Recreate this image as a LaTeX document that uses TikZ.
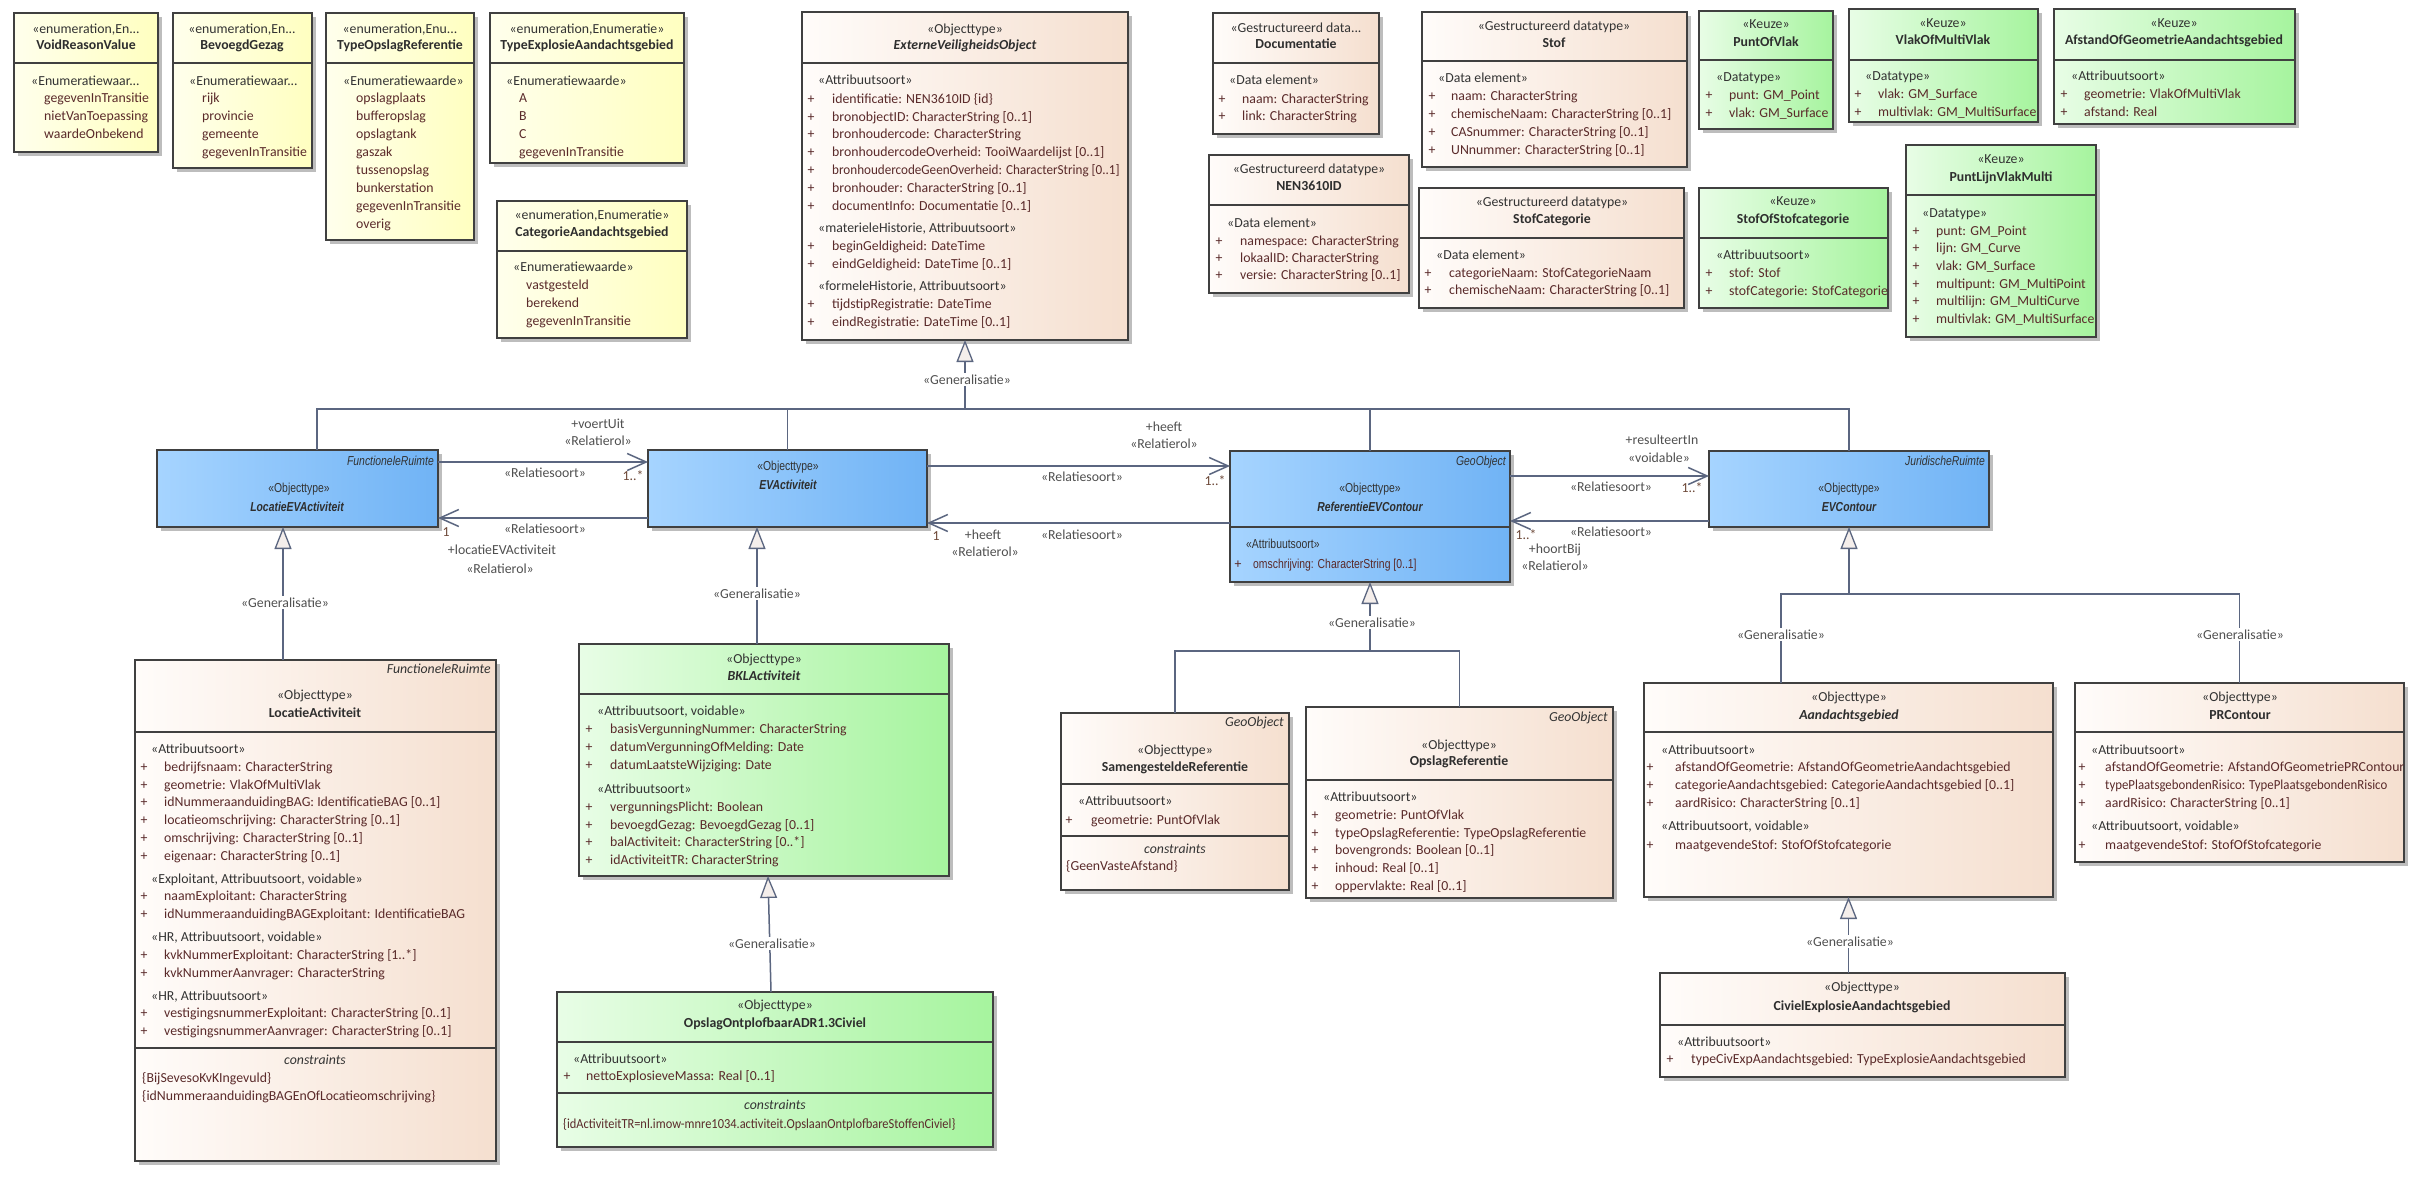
\documentclass[tikz,border=0pt]{standalone}
\usepackage{fontspec}
\setmainfont{Carlito}
\newfontfamily\nrw[FakeStretch=0.8]{Liberation Sans}
\usetikzlibrary{arrows.meta,shadows,calc}
\definecolor{yL}{HTML}{FFFFEC}
\definecolor{yR}{HTML}{FFFFC0}
\definecolor{pL}{HTML}{FFFCFA}
\definecolor{pR}{HTML}{F5DFCF}
\definecolor{gL}{HTML}{E8FDE6}
\definecolor{gR}{HTML}{A6F49E}
\definecolor{bL}{HTML}{A6D4FF}
\definecolor{bR}{HTML}{70B3F5}
\definecolor{bord}{HTML}{404040}
\definecolor{lnc}{HTML}{5B6680}
\definecolor{atc}{HTML}{5A2A2A}
\definecolor{stc}{HTML}{333333}
\definecolor{nmc}{HTML}{2E2E2E}
\definecolor{lbc}{HTML}{505050}
\definecolor{mlc}{HTML}{6E4A3A}
\definecolor{genf}{HTML}{F4EEEB}
\definecolor{shd}{HTML}{BDBDBD}
\newcommand\fs{\fontsize{13.8pt}{18pt}\selectfont}
\newcommand\nfs{\nrw\fontsize{13pt}{16pt}\selectfont}
\newcounter{nn}
\newcommand\tx[4]{\stepcounter{nn}\node[#1] (t\arabic{nn}) at (#2,#3) {#4};}
\newcommand\ubox[6]{%
  \pgfmathsetmacro\bw{#4-#2}\pgfmathsetmacro\bh{#5-#3}%
  \node[#6, anchor=north west, minimum width=\bw pt, minimum height=\bh pt, inner sep=0pt, outer sep=0pt] (#1) at (#2,#3) {};}
\newcommand\usep[2]{\draw[uSep] (#1.west |- 0,#2) -- (#1.east |- 0,#2);}
\newcommand\alist[5]{%
  \foreach \t [count=\i from 0] in {#5} {%
    \pgfmathsetmacro\yy{#3+#4*\i}%
    \tx{uPl}{#1}{\yy}{+}\tx{uAt}{#2}{\yy}{\t}}}
\newcommand\vlist[4]{%
  \foreach \t [count=\i from 0] in {#4} {%
    \pgfmathsetmacro\yy{#2+#3*\i}%
    \tx{uAt}{#1}{\yy}{\t}}}
\tikzset{
  uBox/.style={draw=bord, line width=1.3pt, drop shadow={shadow xshift=4pt,shadow yshift=-4pt,fill=shd,opacity=1}},
  uY/.style={uBox, left color=yL, right color=yR},
  uP/.style={uBox, left color=pL, right color=pR},
  uG/.style={uBox, left color=gL, right color=gR},
  uB/.style={uBox, left color=bL, right color=bR},
  uSep/.style={draw=bord, line width=1.3pt},
  uSt/.style={font=\fs, text=stc, inner sep=0pt, anchor=mid},
  uSn/.style={font=\nfs, text=stc, inner sep=0pt, anchor=mid},
  uNm/.style={font=\fs\bfseries, text=nmc, inner sep=0pt, anchor=mid},
  uNi/.style={font=\fs\bfseries\itshape, text=nmc, inner sep=0pt, anchor=mid},
  uNin/.style={font=\nfs\bfseries\itshape, text=nmc, inner sep=0pt, anchor=mid},
  uGr/.style={font=\fs, text=stc, inner sep=0pt, anchor=mid west},
  uGrn/.style={font=\nfs, text=stc, inner sep=0pt, anchor=mid west},
  uPl/.style={font=\fs, text=atc, inner sep=0pt, anchor=mid},
  uAt/.style={font=\fs, text=atc, inner sep=0pt, anchor=mid west},
  uAtn/.style={font=\nfs, text=atc, inner sep=0pt, anchor=mid west},
  uTg/.style={font=\fs\itshape, text=stc, inner sep=0pt, anchor=mid east},
  uTgn/.style={font=\nfs\itshape, text=stc, inner sep=0pt, anchor=mid east},
  uCs/.style={font=\fs\itshape, text=stc, inner sep=0pt, anchor=mid},
  uLb/.style={font=\fs, text=lbc, inner sep=0pt, anchor=mid},
  uMl/.style={font=\fs, text=mlc, inner sep=0pt, anchor=mid},
  uGl/.style={font=\fs, text=lbc, fill=white, inner sep=1.5pt, anchor=mid},
  uCn/.style={draw=lnc, line width=1.5pt},
  uGe/.style={uCn, -{Triangle[length=22pt,width=17pt,fill=genf,line width=1.3pt]}},
  uAs/.style={uCn, -{Straight Barb[length=19pt,width=17pt,line width=1.5pt]}}
}
\begin{document}
\begin{tikzpicture}[x=1pt,y=-1pt]
\useasboundingbox (0,0) rectangle (2420,1178);
\fill[white] (0,0) rectangle (2420,1178);

% ---------- enumerations
\ubox{vrv}{14}{13}{158}{152}{uY}
\usep{vrv}{63}
\tx{uSt}{86}{31}{«enumeration,En...}
\tx{uNm}{86}{47}{VoidReasonValue}
\tx{uGr}{31}{83}{«Enumeratiewaar...}
\vlist{44}{100}{18}{gegevenInTransitie,nietVanToepassing,waardeOnbekend}

\ubox{bg}{173}{13}{312}{168}{uY}
\usep{bg}{63}
\tx{uSt}{242}{31}{«enumeration,En...}
\tx{uNm}{242}{47}{BevoegdGezag}
\tx{uGr}{189}{83}{«Enumeratiewaar...}
\vlist{202}{100}{18}{rijk,provincie,gemeente,gegevenInTransitie}

\ubox{tor}{326}{13}{474}{240}{uY}
\usep{tor}{63}
\tx{uSt}{400}{31}{«enumeration,Enu...}
\tx{uNm}{400}{47}{TypeOpslagReferentie}
\tx{uGr}{343}{83}{«Enumeratiewaarde»}
\vlist{356}{100}{18}{opslagplaats,bufferopslag,opslagtank,gaszak,tussenopslag,bunkerstation,gegevenInTransitie,overig}

\ubox{tea}{490}{13}{684}{163}{uY}
\usep{tea}{63}
\tx{uSt}{587}{31}{«enumeration,Enumeratie»}
\tx{uNm}{587}{47}{TypeExplosieAandachtsgebied}
\tx{uGr}{506}{83}{«Enumeratiewaarde»}
\vlist{519}{100}{18}{A,B,C,gegevenInTransitie}

\ubox{cag}{497}{201}{687}{338}{uY}
\usep{cag}{251}
\tx{uSt}{592}{217}{«enumeration,Enumeratie»}
\tx{uNm}{592}{234}{CategorieAandachtsgebied}
\tx{uGr}{513}{269}{«Enumeratiewaarde»}
\vlist{526}{287}{18}{vastgesteld,berekend,gegevenInTransitie}

% ---------- ExterneVeiligheidsObject
\ubox{evo}{802}{12}{1128}{340}{uP}
\usep{evo}{63}
\tx{uSt}{965}{31}{«Objecttype»}
\tx{uNi}{965}{47}{ExterneVeiligheidsObject}
\tx{uGr}{818}{82}{«Attribuutsoort»}
\alist{811}{832}{101}{17.8}{identificatie: NEN3610ID \{id\},bronobjectID: CharacterString [0..1],bronhoudercode: CharacterString,bronhoudercodeOverheid: TooiWaardelijst [0..1],{\scalebox{0.95}[1]{bronhoudercodeGeenOverheid: CharacterString [0..1]}},bronhouder: CharacterString [0..1],documentInfo: Documentatie [0..1]}
\tx{uGr}{818}{230}{«materieleHistorie, Attribuutsoort»}
\alist{811}{832}{248}{17.8}{beginGeldigheid: DateTime,eindGeldigheid: DateTime [0..1]}
\tx{uGr}{818}{288}{«formeleHistorie, Attribuutsoort»}
\alist{811}{832}{306}{17.8}{tijdstipRegistratie: DateTime,eindRegistratie: DateTime [0..1]}

% ---------- datatypes
\ubox{doc}{1213}{13}{1379}{134}{uP}
\usep{doc}{63}
\tx{uSt}{1296}{30}{«Gestructureerd data...}
\tx{uNm}{1296}{46}{Documentatie}
\tx{uGr}{1229}{82}{«Data element»}
\alist{1222}{1242}{101}{17}{naam: CharacterString,link: CharacterString}

\ubox{stof}{1422}{12}{1687}{167}{uP}
\usep{stof}{61}
\tx{uSt}{1554}{28}{«Gestructureerd datatype»}
\tx{uNm}{1554}{45}{Stof}
\tx{uGr}{1438}{80}{«Data element»}
\alist{1432}{1451}{98}{18}{naam: CharacterString,chemischeNaam: CharacterString [0..1],CASnummer: CharacterString [0..1],UNnummer: CharacterString [0..1]}

\ubox{nen}{1209}{155}{1409}{293}{uP}
\usep{nen}{205}
\tx{uSt}{1309}{171}{«Gestructureerd datatype»}
\tx{uNm}{1309}{188}{NEN3610ID}
\tx{uGr}{1227}{225}{«Data element»}
\alist{1219}{1240}{243}{17}{namespace: CharacterString,lokaalID: CharacterString,versie: CharacterString [0..1]}

\ubox{stcat}{1419}{188}{1684}{308}{uP}
\usep{stcat}{238}
\tx{uSt}{1552}{204}{«Gestructureerd datatype»}
\tx{uNm}{1552}{221}{StofCategorie}
\tx{uGr}{1436}{257}{«Data element»}
\alist{1428}{1449}{275}{17.5}{categorieNaam: StofCategorieNaam,chemischeNaam: CharacterString [0..1]}

% ---------- Keuze
\ubox{pov}{1699}{11}{1833}{129}{uG}
\usep{pov}{60}
\tx{uSt}{1766}{26}{«Keuze»}
\tx{uNm}{1766}{44}{PuntOfVlak}
\tx{uGr}{1716}{79}{«Datatype»}
\alist{1709}{1729}{97}{18}{punt: GM\_Point,vlak: GM\_Surface}

\ubox{vomv}{1849}{9}{2038}{122}{uG}
\usep{vomv}{60}
\tx{uSt}{1943}{25}{«Keuze»}
\tx{uNm}{1943}{42}{VlakOfMultiVlak}
\tx{uGr}{1865}{78}{«Datatype»}
\alist{1858}{1878}{96}{18}{vlak: GM\_Surface,multivlak: GM\_MultiSurface}

\ubox{aoga}{2054}{9}{2295}{124}{uG}
\usep{aoga}{60}
\tx{uSt}{2174}{25}{«Keuze»}
\tx{uNm}{2174}{42}{AfstandOfGeometrieAandachtsgebied}
\tx{uGr}{2071}{78}{«Attribuutsoort»}
\alist{2064}{2084}{96}{18}{geometrie: VlakOfMultiVlak,afstand: Real}

\ubox{sos}{1699}{188}{1888}{308}{uG}
\usep{sos}{238}
\tx{uSt}{1793}{203}{«Keuze»}
\tx{uNm}{1793}{221}{StofOfStofcategorie}
\tx{uGr}{1716}{257}{«Attribuutsoort»}
\alist{1709}{1729}{275}{18}{stof: Stof,stofCategorie: StofCategorie}

\ubox{plvm}{1906}{145}{2096}{337}{uG}
\usep{plvm}{195}
\tx{uSt}{2001}{161}{«Keuze»}
\tx{uNm}{2001}{179}{PuntLijnVlakMulti}
\tx{uGr}{1922}{215}{«Datatype»}
\alist{1916}{1936}{233}{17.6}{punt: GM\_Point,lijn: GM\_Curve,vlak: GM\_Surface,multipunt: GM\_MultiPoint,multilijn: GM\_MultiCurve,multivlak: GM\_MultiSurface}

% ---------- blue row
\ubox{locev}{157}{450}{438}{527}{uB}
\tx{uTgn}{434}{463}{FunctioneleRuimte}
\tx{uSn}{299}{490}{«Objecttype»}
\tx{uNin}{297}{509}{LocatieEVActiviteit}

\ubox{evact}{648}{450}{927}{527}{uB}
\tx{uSn}{788}{468}{«Objecttype»}
\tx{uNin}{788}{487}{EVActiviteit}

\ubox{refev}{1230}{451}{1510}{582}{uB}
\usep{refev}{527}
\tx{uTgn}{1506}{463}{GeoObject}
\tx{uSn}{1370}{490}{«Objecttype»}
\tx{uNin}{1370}{509}{ReferentieEVContour}
\tx{uGrn}{1246}{546}{«Attribuutsoort»}
\tx{uPl}{1238}{566}{+}
\tx{uAtn}{1253}{566}{omschrijving: CharacterString [0..1]}

\ubox{evc}{1709}{451}{1989}{527}{uB}
\tx{uTgn}{1985}{463}{JuridischeRuimte}
\tx{uSn}{1849}{490}{«Objecttype»}
\tx{uNin}{1849}{509}{EVContour}

% ---------- lower classes
\ubox{locact}{135}{660}{496}{1161}{uP}
\usep{locact}{732}
\usep{locact}{1048}
\tx{uTg}{491}{671}{FunctioneleRuimte}
\tx{uSt}{315}{697}{«Objecttype»}
\tx{uNm}{315}{715}{LocatieActiviteit}
\tx{uGr}{151}{751}{«Attribuutsoort»}
\alist{144}{164}{769}{17.8}{bedrijfsnaam: CharacterString,geometrie: VlakOfMultiVlak,idNummeraanduidingBAG: IdentificatieBAG [0..1],locatieomschrijving: CharacterString [0..1],omschrijving: CharacterString [0..1],eigenaar: CharacterString [0..1]}
\tx{uGr}{151}{881}{«Exploitant, Attribuutsoort, voidable»}
\alist{144}{164}{898}{17.8}{naamExploitant: CharacterString,idNummeraanduidingBAGExploitant: IdentificatieBAG}
\tx{uGr}{151}{939}{«HR, Attribuutsoort, voidable»}
\alist{144}{164}{957}{17.8}{kvkNummerExploitant: CharacterString [1..*],kvkNummerAanvrager: CharacterString}
\tx{uGr}{151}{998}{«HR, Attribuutsoort»}
\alist{144}{164}{1015}{17.8}{vestigingsnummerExploitant: CharacterString [0..1],vestigingsnummerAanvrager: CharacterString [0..1]}
\tx{uCs}{315}{1062}{constraints}
\tx{uAt}{142}{1080}{\{BijSevesoKvKIngevuld\}}
\tx{uAt}{142}{1098}{\{idNummeraanduidingBAGEnOfLocatieomschrijving\}}

\ubox{bkl}{579}{644}{949}{876}{uG}
\usep{bkl}{694}
\tx{uSt}{764}{661}{«Objecttype»}
\tx{uNi}{764}{678}{BKLActiviteit}
\tx{uGr}{597}{713}{«Attribuutsoort, voidable»}
\alist{589}{610}{731}{18}{basisVergunningNummer: CharacterString,datumVergunningOfMelding: Date,datumLaatsteWijziging: Date}
\tx{uGr}{597}{791}{«Attribuutsoort»}
\alist{589}{610}{809}{17.8}{vergunningsPlicht: Boolean,bevoegdGezag: BevoegdGezag [0..1],balActiviteit: CharacterString [0..*],idActiviteitTR: CharacterString}

\ubox{oo}{557}{992}{993}{1147}{uG}
\usep{oo}{1042}
\usep{oo}{1093}
\tx{uSt}{775}{1007}{«Objecttype»}
\tx{uNm}{775}{1025}{OpslagOntplofbaarADR1.3Civiel}
\tx{uGr}{573}{1061}{«Attribuutsoort»}
\alist{567}{586}{1078}{18}{nettoExplosieveMassa: Real [0..1]}
\tx{uCs}{775}{1107}{constraints}
\tx{uAt}{563}{1126}{\scalebox{0.9}[1]{\{idActiviteitTR=nl.imow-mnre1034.activiteit.OpslaanOntplofbareStoffenCiviel\}}}

\ubox{sam}{1061}{713}{1289}{890}{uP}
\usep{sam}{784}
\usep{sam}{836}
\tx{uTg}{1284}{724}{GeoObject}
\tx{uSt}{1175}{752}{«Objecttype»}
\tx{uNm}{1175}{769}{SamengesteldeReferentie}
\tx{uGr}{1078}{803}{«Attribuutsoort»}
\alist{1069}{1091}{822}{18}{geometrie: PuntOfVlak}
\tx{uCs}{1175}{851}{constraints}
\tx{uAt}{1066}{868}{\{GeenVasteAfstand\}}

\ubox{opref}{1306}{707}{1613}{898}{uP}
\usep{opref}{780}
\tx{uTg}{1608}{719}{GeoObject}
\tx{uSt}{1459}{747}{«Objecttype»}
\tx{uNm}{1459}{763}{OpslagReferentie}
\tx{uGr}{1323}{799}{«Attribuutsoort»}
\alist{1315}{1335}{817}{17.8}{geometrie: PuntOfVlak,typeOpslagReferentie: TypeOpslagReferentie,bovengronds: Boolean [0..1],inhoud: Real [0..1],oppervlakte: Real [0..1]}

\ubox{aand}{1644}{683}{2053}{897}{uP}
\usep{aand}{732}
\tx{uSt}{1849}{699}{«Objecttype»}
\tx{uNi}{1849}{717}{Aandachtsgebied}
\tx{uGr}{1661}{752}{«Attribuutsoort»}
\alist{1650}{1675}{769}{18}{afstandOfGeometrie: AfstandOfGeometrieAandachtsgebied,categorieAandachtsgebied: CategorieAandachtsgebied [0..1],aardRisico: CharacterString [0..1]}
\tx{uGr}{1661}{828}{«Attribuutsoort, voidable»}
\alist{1650}{1675}{847}{18}{maatgevendeStof: StofOfStofcategorie}

\ubox{prc}{2075}{683}{2404}{862}{uP}
\usep{prc}{732}
\tx{uSt}{2240}{699}{«Objecttype»}
\tx{uNm}{2240}{717}{PRContour}
\tx{uGr}{2091}{752}{«Attribuutsoort»}
\alist{2082}{2105}{769}{18}{afstandOfGeometrie: AfstandOfGeometriePRContour,{\scalebox{0.93}[1]{typePlaatsgebondenRisico: TypePlaatsgebondenRisico}},aardRisico: CharacterString [0..1]}
\tx{uGr}{2091}{828}{«Attribuutsoort, voidable»}
\alist{2082}{2105}{847}{18}{maatgevendeStof: StofOfStofcategorie}

\ubox{civ}{1660}{973}{2065}{1077}{uP}
\usep{civ}{1025}
\tx{uSt}{1862}{989}{«Objecttype»}
\tx{uNm}{1862}{1008}{CivielExplosieAandachtsgebied}
\tx{uGr}{1677}{1044}{«Attribuutsoort»}
\alist{1670}{1691}{1061}{18}{typeCivExpAandachtsgebied: TypeExplosieAandachtsgebied}

% ---------- generalisations
\coordinate (gj) at (965,409);
\draw[uCn] ([xshift=19.5pt]locev.north) |- (gj);
\draw[uCn] (gj) -| (evc.north);
\draw[uCn] (evact.north) -- (evact.north |- gj);
\draw[uCn] (refev.north) -- (refev.north |- gj);
\draw[uGe] (gj) -- (evo.south);

\draw[uGe] ([xshift=-14.5pt]locev.south |- locact.north) -- ([xshift=-14.5pt]locev.south);
\draw[uGe] ([xshift=-30.5pt]evact.south |- bkl.north) -- ([xshift=-30.5pt]evact.south);
\draw[uGe] ([xshift=-4pt]oo.north) -- ([xshift=4pt]bkl.south);

\coordinate (rj) at (1370,651);
\draw[uCn] (sam.north) |- (rj) -| (opref.north);
\draw[uGe] (rj) -- (refev.south);

\coordinate (ej) at (1849,594);
\draw[uCn] ([xshift=-67.5pt]aand.north) |- (ej) -| (prc.north);
\draw[uGe] (ej) -- (evc.south);
\draw[uGe] (civ.north -| aand.south) -- (aand.south);

\tx{uGl}{967}{382}{«Generalisatie»}
\tx{uGl}{285}{605}{«Generalisatie»}
\tx{uGl}{757}{596}{«Generalisatie»}
\tx{uGl}{772}{946}{«Generalisatie»}
\tx{uGl}{1372}{625}{«Generalisatie»}
\tx{uGl}{1781}{637}{«Generalisatie»}
\tx{uGl}{2240}{637}{«Generalisatie»}
\tx{uGl}{1850}{944}{«Generalisatie»}

% ---------- associations
\draw[uAs] ([yshift=26.5pt]locev.east) -- ([yshift=26.5pt]evact.west);
\draw[uAs] ([yshift=-29.5pt]evact.west) -- ([yshift=-29.5pt]locev.east);
\draw[uAs] ([yshift=22.5pt]evact.east) -- ([yshift=22.5pt]evact.east -| refev.west);
\draw[uAs] ([yshift=-34.5pt]evact.east -| refev.west) -- ([yshift=-34.5pt]evact.east);
\draw[uAs] ([yshift=13pt]evc.west -| refev.east) -- ([yshift=13pt]evc.west);
\draw[uAs] ([yshift=-32pt]evc.west) -- ([yshift=-32pt]evc.west -| refev.east);

\tx{uLb}{598}{426}{+voertUit}
\tx{uLb}{598}{443}{«Relatierol»}
\tx{uLb}{545}{475}{«Relatiesoort»}
\tx{uMl}{633}{478}{1..*}
\tx{uLb}{545}{531}{«Relatiesoort»}
\tx{uMl}{446}{534}{1}
\tx{uLb}{502}{552}{+locatieEVActiviteit}
\tx{uLb}{500}{571}{«Relatierol»}

\tx{uLb}{1164}{429}{+heeft}
\tx{uLb}{1164}{446}{«Relatierol»}
\tx{uLb}{1082}{479}{«Relatiesoort»}
\tx{uMl}{1215}{483}{1..*}
\tx{uMl}{936}{538}{1}
\tx{uLb}{983}{537}{+heeft}
\tx{uLb}{985}{554}{«Relatierol»}
\tx{uLb}{1082}{537}{«Relatiesoort»}

\tx{uLb}{1662}{442}{+resulteertIn}
\tx{uLb}{1659}{460}{«voidable»}
\tx{uLb}{1611}{489}{«Relatiesoort»}
\tx{uMl}{1692}{490}{1..*}
\tx{uLb}{1611}{534}{«Relatiesoort»}
\tx{uMl}{1526}{537}{1..*}
\tx{uLb}{1555}{551}{+hoortBij}
\tx{uLb}{1555}{568}{«Relatierol»}
\end{tikzpicture}
\end{document}
